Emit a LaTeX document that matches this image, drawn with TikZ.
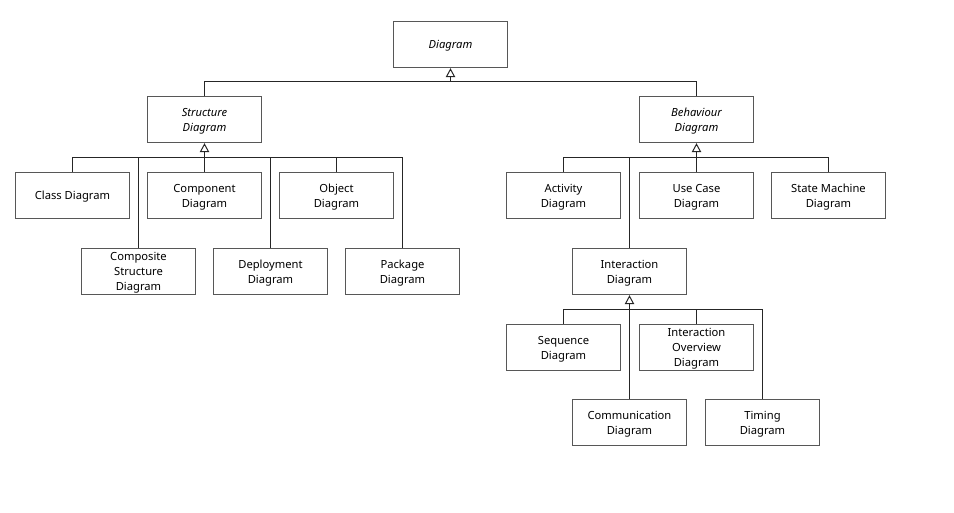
\documentclass[tikz,border=0pt]{standalone}
\usepackage{fontspec}
\setmainfont{Noto Sans}
\usetikzlibrary{arrows.meta}
\begin{document}
\begin{tikzpicture}[x=1pt,y=-1pt,
  umlbox/.style={draw=black!66,line width=1.4pt,fill=white,minimum width=114pt,minimum height=46pt,
    inner sep=0pt,text depth=0pt,align=center,font=\fontsize{11.2}{15}\selectfont},
  abstract/.style={umlbox,font=\fontsize{11.2}{15}\selectfont\itshape},
  link/.style={draw=black!85,line width=1pt},
  gen/.style={link,-{Triangle[open,width=9.5pt,length=9pt,line width=1pt]}}]
\useasboundingbox (0,0) rectangle (954,513);
% top level
\node[abstract] (diag) at (450.5,44.5) {Diagram};
\node[abstract] (struct) at (204.5,119.5) {Structure\\Diagram};
\node[abstract] (behav) at (696.5,119.5) {Behaviour\\Diagram};
% structure diagrams
\node[umlbox] (class) at (72.5,195.5) {Class Diagram};
\node[umlbox] (comp) at (204.5,195.5) {Component\\Diagram};
\node[umlbox] (obj) at (336.5,195.5) {Object\\Diagram};
\node[umlbox] (csd) at (138.5,271.5) {Composite\\Structure\\Diagram};
\node[umlbox] (depl) at (270.5,271.5) {Deployment\\Diagram};
\node[umlbox] (pkg) at (402.5,271.5) {Package\\Diagram};
% behaviour diagrams
\node[umlbox] (act) at (563.5,195.5) {Activity\\Diagram};
\node[umlbox] (uc) at (696.5,195.5) {Use Case\\Diagram};
\node[umlbox] (sm) at (828.5,195.5) {State Machine\\Diagram};
\node[umlbox] (inter) at (629.5,271.5) {Interaction\\Diagram};
% interaction diagrams
\node[umlbox] (seq) at (563.5,347.5) {Sequence\\Diagram};
\node[umlbox] (iod) at (696.5,347.5) {Interaction\\Overview\\Diagram};
\node[umlbox] (commd) at (629.5,422.5) {Communication\\Diagram};
\node[umlbox] (timing) at (762.5,422.5) {Timing\\Diagram};
% bus junctions
\coordinate (tbus) at (450.5,81.5);
\coordinate (sbus) at (204.5,157.5);
\coordinate (bbus) at (696.5,157.5);
\coordinate (ibus) at (629.5,309.5);
% generalisations
\draw[link] (struct.north) |- (tbus);
\draw[link] (behav.north) |- (tbus);
\draw[gen] (tbus) -- (diag.south);
\foreach \n in {class,comp,obj,csd,depl,pkg} \draw[link] (\n.north) |- (sbus);
\draw[gen] (sbus) -- (struct.south);
\foreach \n in {act,uc,sm,inter} \draw[link] (\n.north) |- (bbus);
\draw[gen] (bbus) -- (behav.south);
\foreach \n in {seq,iod,commd,timing} \draw[link] (\n.north) |- (ibus);
\draw[gen] (ibus) -- (inter.south);
\end{tikzpicture}
\end{document}
